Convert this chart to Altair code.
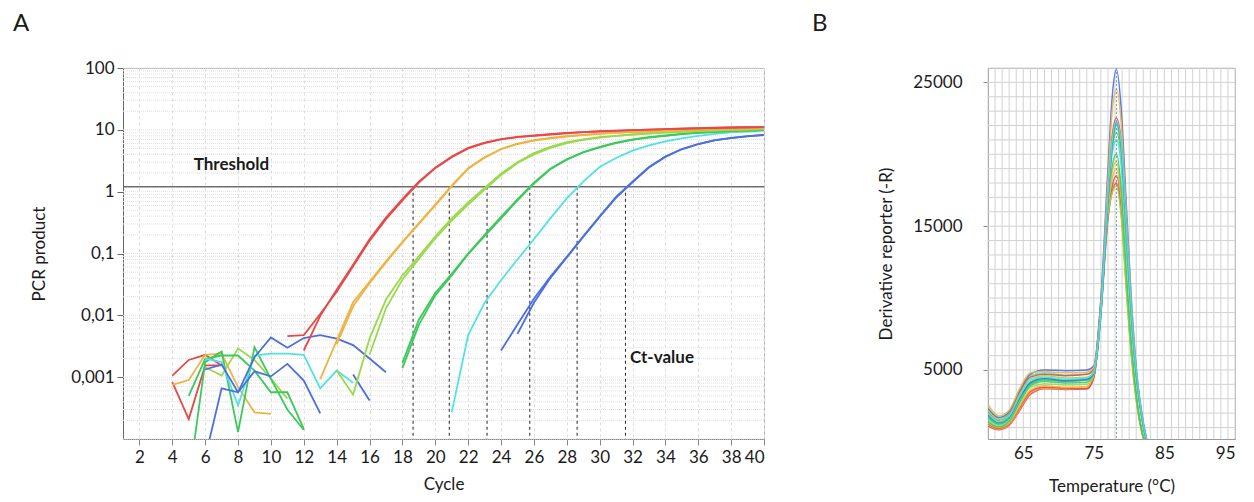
import altair as alt
import pandas as pd

FONT = "Lato"
TXT = "#1a1a1a"

# ================= Panel A : amplification plot =================
cycle_ticks = list(range(2, 41, 2))
log_ticks = [0.001, 0.01, 0.1, 1, 10, 100]
threshold_value = 1.2
ct_values = [18.65, 20.85, 23.15, 25.75, 28.63, 31.57]
y_bottom = 0.0001

amp_groups = ["red", "orange", "lime", "green", "cyan", "blue"]
amp_colors = ["#e84848", "#edb443", "#9ad94c", "#3cc95c", "#52e2e2", "#4b6fe0"]

# background (noise) traces, values per cycle
red_noise_1 = [0.00106, 0.0019, 0.0023, 0.00155]                                   # 4-7
red_noise_2 = [0.00083, 0.00021, 0.00155, 0.00155]                                 # 4-7
orange_noise = [0.00075, 0.0009, 0.0023, 0.0024, 0.00069, 0.00027, 0.000255]      # 4-10
lime_noise = [0.00145, 0.00106, 0.0029, 0.0019, 0.00095, 0.00045]                 # 6-11
green_noise_1 = [0.0005, 0.00198, 0.00224, 0.00224, 0.00128, 0.00057, 0.00057, 0.000146]  # 5-12
green_noise_2 = [0.00002, 0.00175, 0.0026, 0.000129, 0.00306, 0.00094, 0.0003, 0.00014]   # 5-12
cyan_noise = [0.002, 0.00175, 0.00035, 0.00224, 0.0024, 0.0024, 0.0023, 0.00066, 0.00128, 0.00081]  # 6-15
blue_noise_1 = [0.00005, 0.00066, 0.00057, 0.0021, 0.0044, 0.003, 0.0043, 0.0048, 0.0042, 0.0033, 0.002, 0.0012]  # 6-17
blue_noise_2 = [0.00133, 0.0016, 0.00057, 0.00124, 0.00103, 0.00164, 0.00088, 0.00026]  # 6-13
blue_noise_3 = [0.0011, 0.00042]                                                    # 15-16

# amplification traces
red_amp_a = [0.0046, 0.0048, 0.0105, 0.024, 0.062, 0.16, 0.36, 0.72, 1.4, 2.4, 3.6, 5.0, 6.1, 7.0, 7.6,
             8.0, 8.4, 8.8, 9.2, 9.4, 9.6, 9.9, 10.1, 10.3, 10.4, 10.6, 10.7, 10.9, 11.0, 11.1]   # 11-40
red_amp_b = [0.0027, 0.0098, 0.026, 0.066, 0.17, 0.38, 0.76, 1.45, 2.45, 3.7, 5.1, 6.2, 7.1, 7.7, 8.1,
             8.5, 8.9, 9.2, 9.5, 9.7, 9.9, 10.1, 10.3, 10.5, 10.6, 10.8, 10.9, 11.0, 11.1]        # 12-40
orange_amp_a = [0.00093, 0.0039, 0.0163, 0.035, 0.075, 0.155, 0.31, 0.62, 1.25, 2.4, 3.6, 4.9, 6.0, 6.8,
                7.4, 7.9, 8.3, 8.7, 9.0, 9.3, 9.5, 9.7, 9.9, 10.1, 10.3, 10.5, 10.6, 10.7]        # 13-40
orange_amp_b = [0.0034, 0.014, 0.033, 0.072, 0.15, 0.3, 0.6, 1.22, 2.35, 3.55, 4.85, 5.9, 6.7, 7.3, 7.8,
                8.2, 8.6, 8.9, 9.2, 9.4, 9.6, 9.8, 10.0, 10.2, 10.4, 10.5, 10.6]                 # 14-40
lime_amp_a = [0.00128, 0.00052, 0.0042, 0.018, 0.044, 0.09, 0.19, 0.37, 0.67, 1.15, 1.95, 3.0, 4.2, 5.3,
              6.3, 7.0, 7.6, 8.0, 8.4, 8.8, 9.1, 9.3, 9.6, 9.8, 10.0, 10.2, 10.4]                 # 14-40
lime_amp_b = [0.0023, 0.013, 0.038, 0.082, 0.175, 0.34, 0.62, 1.08, 1.85, 2.9, 4.0, 5.1, 6.1, 6.9, 7.5,
              8.0, 8.4, 8.7, 9.0, 9.3, 9.5, 9.7, 9.9, 10.1, 10.3]                                 # 16-40
green_amp_a = [0.0014, 0.007, 0.021, 0.044, 0.098, 0.19, 0.37, 0.72, 1.35, 2.3, 3.3, 4.3, 5.2, 6.1, 6.9,
               7.5, 8.0, 8.5, 8.9, 9.2, 9.5, 9.7, 9.9]                                            # 18-40
green_amp_b = [0.0017, 0.0085, 0.023, 0.047, 0.1, 0.2, 0.39, 0.75, 1.4, 2.35, 3.35, 4.35, 5.3, 6.2, 7.0,
               7.6, 8.1, 8.6, 9.0, 9.3, 9.5, 9.7, 9.9]                                            # 18-40
cyan_amp = [0.00027, 0.0048, 0.016, 0.037, 0.08, 0.17, 0.37, 0.78, 1.45, 2.5, 3.5, 4.6, 5.6, 6.5, 7.3,
            8.0, 8.6, 9.1, 9.4, 9.7]                                                              # 21-40
blue_amp_a = [0.0027, 0.0071, 0.0185, 0.042, 0.088, 0.19, 0.4, 0.82, 1.45, 2.5, 3.7, 4.9, 5.9, 6.8, 7.4,
              7.9, 8.3]                                                                           # 24-40
blue_amp_b = [0.005, 0.016, 0.04, 0.086, 0.185, 0.39, 0.8, 1.42, 2.45, 3.65, 4.85, 5.85, 6.75, 7.35,
              7.85, 8.25]                                                                         # 25-40

amp_traces = [
    ("red", "red-n1", 4, red_noise_1), ("red", "red-n2", 4, red_noise_2),
    ("orange", "orange-n", 4, orange_noise),
    ("lime", "lime-n", 6, lime_noise),
    ("green", "green-n1", 5, green_noise_1), ("green", "green-n2", 5, green_noise_2),
    ("cyan", "cyan-n", 6, cyan_noise),
    ("blue", "blue-n1", 6, blue_noise_1), ("blue", "blue-n2", 6, blue_noise_2), ("blue", "blue-n3", 15, blue_noise_3),
    ("blue", "blue-a", 24, blue_amp_a), ("blue", "blue-b", 25, blue_amp_b),
    ("cyan", "cyan-a", 21, cyan_amp),
    ("green", "green-a", 18, green_amp_a), ("green", "green-b", 18, green_amp_b),
    ("lime", "lime-a", 14, lime_amp_a), ("lime", "lime-b", 16, lime_amp_b),
    ("orange", "orange-a", 13, orange_amp_a), ("orange", "orange-b", 14, orange_amp_b),
    ("red", "red-a", 11, red_amp_a), ("red", "red-b", 12, red_amp_b),
]

rows = []
for grp, sid, start, vals in amp_traces:
    for i, v in enumerate(vals):
        rows.append({"group": grp, "series": sid, "cycle": start + i, "value": v})
amp_df = pd.DataFrame(rows)

minor_grid = [m * 10.0 ** k for k in range(-4, 2) for m in range(1, 10)] + [100.0]

xs_a = alt.Scale(domain=[1, 40], nice=False, zero=False)
ys_a = alt.Scale(type="log", domain=[y_bottom, 100], nice=False)
x_axis_a = alt.Axis(values=cycle_ticks, grid=True, gridDash=[3, 3], gridColor="#dcdcdc",
                    tickSize=6, labelPadding=4, titlePadding=11, domainColor="#8a8a8a",
                    tickColor="#8a8a8a")
y_axis_a = alt.Axis(values=log_ticks, grid=False, tickSize=6, labelPadding=3, titlePadding=22,
                    domainColor="#666666", tickColor="#666666",
                    labelExpr="replace(toString(datum.value), '.', ',')")
XT_A = "Cycle"
YT_A = "PCR product"

grid_a = alt.Chart(pd.DataFrame({"g": minor_grid})).mark_rule(
    color="#e0e0e0", strokeDash=[1, 1], strokeWidth=1
).encode(y=alt.Y("g:Q", scale=ys_a, axis=y_axis_a, title=YT_A))

ct_df = pd.DataFrame({"ct": ct_values, "top": [threshold_value] * len(ct_values),
                      "bottom": [y_bottom] * len(ct_values)})
ct_rules = alt.Chart(ct_df).mark_rule(color="#222222", strokeDash=[3, 3], strokeWidth=1).encode(
    x=alt.X("ct:Q", scale=xs_a, axis=x_axis_a, title=XT_A),
    y=alt.Y("top:Q", scale=ys_a, axis=y_axis_a, title=YT_A),
    y2="bottom:Q",
)

thr_rule = alt.Chart(pd.DataFrame({"t": [threshold_value]})).mark_rule(
    color="#6e6e6e", strokeWidth=1.5
).encode(y=alt.Y("t:Q", scale=ys_a, axis=y_axis_a, title=YT_A))

curves_a = alt.Chart(amp_df).mark_line(strokeWidth=1.8, clip=True).encode(
    x=alt.X("cycle:Q", scale=xs_a, axis=x_axis_a, title=XT_A),
    y=alt.Y("value:Q", scale=ys_a, axis=y_axis_a, title=YT_A),
    color=alt.Color("group:N", scale=alt.Scale(domain=amp_groups, range=amp_colors), legend=None),
    detail="series:N",
)

label_df = pd.DataFrame({"x": [5.3, 31.85], "y": [2.7, 0.00203], "label": ["Threshold", "Ct-value"]})
texts_a = alt.Chart(label_df).mark_text(
    align="left", baseline="middle", font=FONT, fontSize=17, fontWeight="bold", color=TXT
).encode(
    x=alt.X("x:Q", scale=xs_a, axis=x_axis_a, title=XT_A),
    y=alt.Y("y:Q", scale=ys_a, axis=y_axis_a, title=YT_A),
    text="label:N",
)

panel_a = alt.layer(grid_a, ct_rules, thr_rule, curves_a, texts_a).properties(
    width=641, height=371,
    title=alt.TitleParams("A", anchor="start", frame="group", dx=-110, fontSize=24, font=FONT,
                          fontWeight="normal", color=TXT, offset=23),
)

# ================= Panel B : melt curves =================
melt_temps = [60, 61.5, 63, 64.5, 66, 68, 71, 74, 75, 76, 77, 77.6, 78.2, 78.9, 79.6, 80.3, 81, 81.7, 82.4, 83]
melt_peak_temp = 78.2
temp_ticks = [65, 75, 85, 95]
deriv_ticks = [5000, 15000, 25000]
temp_grid = list(range(60, 96))
deriv_grid = list(range(1000, 26001, 1000))

melt_red = [1100, 850, 1150, 2200, 3300, 3700, 3650, 3700, 4500, 9200, 15800, 17800, 18500, 16300, 11200, 6500, 3200, 950, -300, -1200]
melt_orange = [1200, 900, 1200, 2300, 3400, 3750, 3700, 3750, 4600, 9400, 16200, 18300, 19000, 16600, 11400, 6600, 3300, 1000, -300, -1200]
melt_olive = [1250, 950, 1250, 2400, 3500, 3800, 3750, 3700, 4500, 9000, 15500, 17400, 18000, 15800, 10800, 6200, 3000, 900, -300, -1200]
melt_yellowgreen = [1300, 1000, 1300, 2500, 3600, 3900, 3800, 3850, 4700, 9600, 16500, 18800, 19500, 17000, 11500, 6600, 3200, 950, -300, -1200]
melt_teal = [1500, 1150, 1500, 2700, 3800, 4050, 3950, 4000, 4700, 9500, 15800, 17300, 17800, 15500, 10500, 6000, 2900, 850, -300, -1200]
melt_green = [1400, 1050, 1450, 2800, 3900, 4200, 4100, 4150, 4900, 9800, 16800, 19200, 20000, 17500, 11800, 6800, 3300, 1000, -300, -1200]
melt_cyan = [1600, 1200, 1600, 2950, 4000, 4350, 4250, 4300, 4800, 9300, 17000, 20100, 21000, 19000, 13300, 8200, 4300, 1800, 100, -900]
melt_sky = [1800, 1300, 1700, 3000, 4150, 4450, 4300, 4400, 4850, 9200, 17000, 20500, 21500, 19700, 14000, 8700, 4600, 1950, 150, -850]
melt_pink = [2400, 1650, 2000, 3500, 4600, 4800, 4650, 4700, 5000, 9200, 17200, 20200, 21000, 19500, 14200, 8900, 4700, 2000, 200, -800]
melt_tan = [2300, 1700, 2100, 3600, 4700, 5000, 4950, 5000, 5300, 10000, 19000, 24000, 25900, 23000, 16500, 10000, 5200, 2300, 400, -600]
melt_magenta = [2100, 1500, 1900, 3400, 4500, 4700, 4600, 4700, 5100, 9400, 17500, 21300, 22500, 20800, 15000, 9300, 4900, 2100, 250, -800]
melt_purple = [2600, 1800, 2200, 3700, 4800, 4900, 4800, 4850, 5200, 9600, 18200, 23000, 24500, 22000, 15800, 9800, 5100, 2200, 300, -700]
melt_violet = [2200, 1550, 1850, 3300, 4400, 4600, 4450, 4500, 4900, 9100, 17100, 20700, 21800, 20100, 14500, 9000, 4800, 2050, 200, -800]
melt_navy = [1700, 1250, 1650, 3000, 4000, 4300, 4200, 4300, 4750, 8800, 16800, 20600, 22000, 20400, 14700, 9100, 4850, 2100, 200, -800]
melt_blue = [1900, 1350, 1750, 3100, 4100, 4400, 4250, 4350, 4800, 9000, 17000, 20800, 22200, 20500, 14800, 9200, 4900, 2150, 250, -800]
melt_royal = [2000, 1400, 1800, 3200, 4300, 4500, 4350, 4450, 4850, 9100, 17200, 21000, 22300, 20700, 15000, 9300, 5000, 2200, 300, -700]

melt_names = ["red", "orange", "olive", "yellowgreen", "teal", "green", "cyan", "sky", "pink",
              "tan", "magenta", "purple", "violet", "navy", "blue", "royal"]
melt_colors = ["#e53935", "#f08c28", "#9aa02a", "#b5d334", "#16a37a", "#2ec448", "#1fc9d6", "#2a8de6",
               "#f068c0", "#cfa590", "#e0208c", "#a06ad0", "#7a3be6", "#2a3ad0", "#3552f0", "#4a66ff"]
melt_series = [melt_red, melt_orange, melt_olive, melt_yellowgreen, melt_teal, melt_green, melt_cyan,
               melt_sky, melt_pink, melt_tan, melt_magenta, melt_purple, melt_violet, melt_navy,
               melt_blue, melt_royal]

mrows = []
for name, vals in zip(melt_names, melt_series):
    for t, v in zip(melt_temps, vals):
        mrows.append({"curve": name, "temp": t, "deriv": v})
melt_df = pd.DataFrame(mrows)

xs_b = alt.Scale(domain=[60, 95], nice=False, zero=False)
ys_b = alt.Scale(domain=[200, 26000], nice=False, zero=False)
x_axis_b = alt.Axis(values=temp_ticks, grid=False, ticks=False, tickSize=0, labelPadding=6,
                    titlePadding=17, domainColor="#9a9a9a")
y_axis_b = alt.Axis(values=deriv_ticks, grid=False, tickSize=5, labelPadding=21, titlePadding=17,
                    domainColor="#8a8a8a", tickColor="#8a8a8a", format="d")
XT_B = "Temperature (°C)"
YT_B = "Derivative reporter (-R)"

vgrid_b = alt.Chart(pd.DataFrame({"t": temp_grid})).mark_rule(color="#d2d2d2", strokeWidth=1).encode(
    x=alt.X("t:Q", scale=xs_b, axis=x_axis_b, title=XT_B))
hgrid_b = alt.Chart(pd.DataFrame({"d": deriv_grid})).mark_rule(color="#d2d2d2", strokeWidth=1).encode(
    y=alt.Y("d:Q", scale=ys_b, axis=y_axis_b, title=YT_B))

curves_b = alt.Chart(melt_df).mark_line(strokeWidth=1.5, interpolate="monotone", clip=True, opacity=0.9).encode(
    x=alt.X("temp:Q", scale=xs_b, axis=x_axis_b, title=XT_B),
    y=alt.Y("deriv:Q", scale=ys_b, axis=y_axis_b, title=YT_B),
    color=alt.Color("curve:N", scale=alt.Scale(domain=melt_names, range=melt_colors), legend=None),
    detail="curve:N",
)

peak_rule = alt.Chart(pd.DataFrame({"p": [melt_peak_temp]})).mark_rule(
    color="#7f9cc4", strokeDash=[2, 2], strokeWidth=1
).encode(x=alt.X("p:Q", scale=xs_b, axis=x_axis_b, title=XT_B))

panel_b = alt.layer(vgrid_b, hgrid_b, curves_b, peak_rule).properties(
    width=247, height=371,
    title=alt.TitleParams("B", anchor="start", frame="group", dx=-176, fontSize=24, font=FONT,
                          fontWeight="normal", color=TXT, offset=32),
)

chart = alt.hconcat(panel_a, panel_b, spacing=45).properties(
    padding={"left": 4, "top": 3, "right": 0, "bottom": 0}
).configure_view(stroke="#b5b5b5", strokeWidth=1).configure_axis(
    labelFont=FONT, titleFont=FONT, labelFontSize=17, titleFontSize=17,
    labelColor=TXT, titleColor=TXT, titleFontWeight="normal"
)

chart.save("out.html", embed_options={"renderer": "svg", "actions": False})
